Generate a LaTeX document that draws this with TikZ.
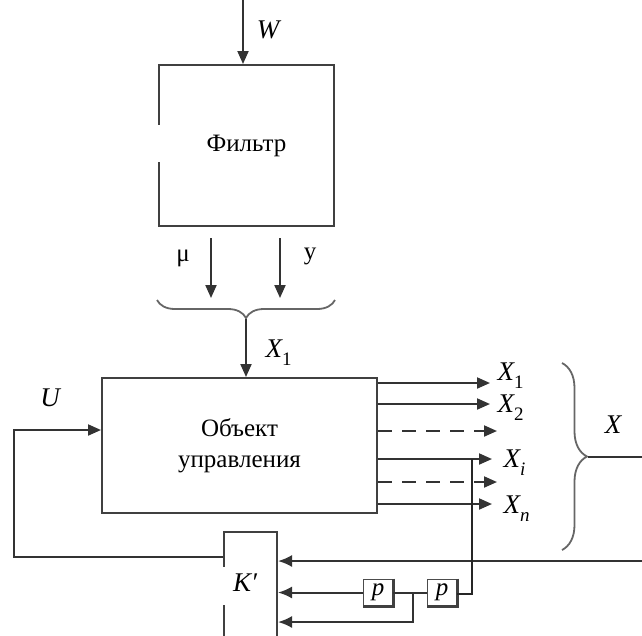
\documentclass[tikz,border=0pt]{standalone}
\usepackage{fontspec}
\setmainfont{Liberation Serif}
\usetikzlibrary{arrows.meta,decorations.pathreplacing}
\newcommand{\lbsub}[2]{\textit{#1}\raisebox{-0.33em}{\fontsize{19}{19}\selectfont #2}}
\begin{document}
\begin{tikzpicture}[x=1pt,y=-1pt,
  ln/.style={line width=2pt, draw=black!80},
  thinln/.style={line width=1.5pt, draw=black!85},
  arr/.style={ln, -{Triangle[length=13pt,width=11pt]}},
  karr/.style={ln, -{Latex[length=14pt,width=12pt]}},
  dashedarr/.style={arr, dash pattern=on 14pt off 10pt},
  blk/.style={draw=black!75, line width=2pt, inner sep=0pt},
  txt/.style={font=\fontsize{25}{31}\selectfont},
  itl/.style={font=\fontsize{27}{29}\selectfont\itshape},
  pbox/.style={draw=black!70, line width=0.8pt, minimum width=30pt, minimum height=27pt, inner sep=0pt, font=\fontsize{25}{25}\selectfont\itshape},
  gap/.style={draw=white, line width=4pt},
  brc/.style={line width=1.8pt, draw=black!60, decorate}]
\useasboundingbox (0,0) rectangle (642,635);

% Filter
\node[blk, minimum width=175pt, minimum height=161pt, anchor=north west, txt] (filter) at (158,64) {Фильтр};
\draw[gap] (filter.west |- 0,125) -- (filter.west |- 0,162);
\coordinate (wtop) at (243,0);
\draw[arr] (wtop) -- (wtop |- filter.north);
\node[itl] (wlab) at (268,30) {W};

% mu and y
\coordinate (mutop) at (211,238);
\coordinate (mubot) at (211,298);
\coordinate (ytop) at (280,238);
\coordinate (ybot) at (280,298);
\draw[arr] (mutop) -- (mubot);
\draw[arr] (ytop) -- (ybot);
\node[txt] (mulab) at (183,258) {μ};
\node[txt] (ylab) at (310,256) {у};

% brace
\coordinate (bright) at (335,300);
\coordinate (bleft) at (157,300);
\draw[brc, decoration={brace, amplitude=18pt}] (bright) -- (bleft);
\coordinate (btip) at (246,319);

% object
\node[blk, minimum width=275pt, minimum height=135pt, anchor=north west, txt, align=center] (obj) at (101,377) {Объект\\управления};
\draw[arr] (btip) -- (btip |- obj.north);
\node[itl, anchor=base west] (x1top) at (262,357) {\lbsub{X}{\upshape 1}};

% outputs
\draw[arr] (obj.east |- 0,383) -- (490,383);
\draw[arr] (obj.east |- 0,404) -- (490,404);
\draw[dashedarr] (obj.east |- 0,431) -- (497,431);
\draw[arr] (obj.east |- 0,459) -- (492,459);
\draw[dashedarr] (obj.east |- 0,482) -- (497,482);
\draw[arr] (obj.east |- 0,504) -- (492,504);
\node[itl, anchor=base west] (lx1) at (494,380) {\lbsub{X}{\upshape 1}};
\node[itl, anchor=base west] (lx2) at (494,412) {\lbsub{X}{\upshape 2}};
\node[itl, anchor=base west] (lxi) at (500,467) {\lbsub{X}{\itshape i}};
\node[itl, anchor=base west] (lxn) at (500,513) {\lbsub{X}{\itshape n}};

% right brace
\coordinate (rbtop) at (562,363);
\coordinate (rbbot) at (562,550);
\draw[brc, decoration={brace, amplitude=25pt}] (rbtop) -- (rbbot);
\coordinate (rbtip) at (588,457);
\coordinate (rbout) at (642,457);
\draw[ln] (rbtip) -- (rbout);
\node[itl] (xlab) at (613,425) {X};

% K' box
\node[blk, minimum width=53pt, minimum height=130pt, anchor=north west] (kbox) at (223,531) {};
\draw[gap] (kbox.west |- 0,567) -- (kbox.west |- 0,605);
\node[itl] (klab) at (245,583) {K′};

% feedback U
\coordinate (fb1) at (14,557);
\coordinate (fb2) at (14,430);
\draw[arr] (kbox.west |- fb1) -- (fb1) -- (fb2) -- (obj.west |- fb2);
\node[itl] (ulab) at (50,398) {U};

% right input
\coordinate (rin) at (642,561);
\draw[karr] (rin) -- (kbox.east |- rin);

% p boxes
\node[pbox] (p1) at (378,592.5) {p};
\node[pbox] (p2) at (442,592.5) {p};
\draw[line width=2.4pt, draw=black!75] (p1.north east) -- (p1.south east) -- (p1.south west);
\draw[line width=2.4pt, draw=black!75] (p2.north east) -- (p2.south east) -- (p2.south west);
\coordinate (xi) at (472,459);
\coordinate (xid) at (472,594);
\draw[thinln] (xi) -- (xid) -- (p2.east |- xid);
\draw[ln] (p2.west) -- (p1.east);
\draw[karr] (p1.west) -- (kbox.east |- p1.west);
\coordinate (br2) at (413,592.5);
\coordinate (br3) at (413,622);
\draw[karr] (br2) -- (br3) -- (kbox.east |- br3);
\end{tikzpicture}
\end{document}
